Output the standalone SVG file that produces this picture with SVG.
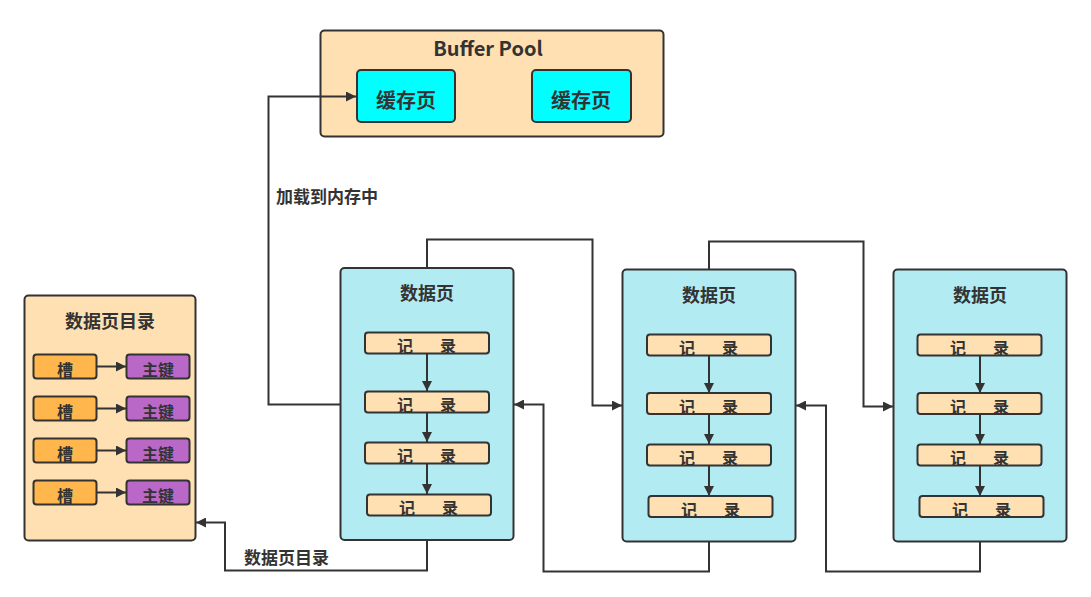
<svg xmlns="http://www.w3.org/2000/svg" width="1091" height="597" viewBox="0 0 1091 597">
<defs>
<marker id="ah" viewBox="0 0 10 10" refX="10" refY="5" markerWidth="10" markerHeight="10" markerUnits="userSpaceOnUse" orient="auto">
<path d="M0,0 L10,5 L0,10 Z" fill="#333"/>
</marker>
</defs>
<style>
text{font-family:"Noto Sans CJK SC","Liberation Sans",sans-serif;font-weight:bold;fill:#333;text-anchor:middle;dominant-baseline:central}
.box{stroke:#333;stroke-width:2}
.peach{fill:#FFE0B2}
.blue{fill:#B2EBF2}
.cyan{fill:#00FFFF}
.slot{fill:#FFB74D}
.key{fill:#BA68C8}
.title{font-size:18px}
.big{font-size:20px}
.small{font-size:16px}
.lbl{font-size:17px;text-anchor:start}
.c{fill:none;stroke:#333;stroke-width:2;marker-end:url(#ah)}
</style>
<rect width="1091" height="597" fill="#fff"/>

<g id="buffer-pool">
<rect class="box peach" x="320.5" y="30.5" width="343" height="106" rx="4"/>
<text class="big" x="488" y="47">Buffer Pool</text>
</g>
<g id="cache-page-1">
<rect class="box cyan" x="357" y="70" width="98" height="52" rx="4"/>
<text class="big" x="406" y="99">缓存页</text>
</g>
<g id="cache-page-2">
<rect class="box cyan" x="532" y="70" width="99" height="52" rx="4"/>
<text class="big" x="581" y="99">缓存页</text>
</g>

<g id="page-directory">
<rect class="box peach" x="24.5" y="295.5" width="171" height="245" rx="4"/>
<text class="title" x="110" y="320">数据页目录</text>
<rect class="box slot" x="33.5" y="354.5" width="63" height="24" rx="3"/>
<text class="small" x="65" y="369">槽</text>
<rect class="box key" x="126.5" y="354.5" width="63" height="24" rx="3"/>
<text class="small" x="158" y="369">主键</text>
<rect class="box slot" x="33.5" y="396.5" width="63" height="24" rx="3"/>
<text class="small" x="65" y="411">槽</text>
<rect class="box key" x="126.5" y="396.5" width="63" height="24" rx="3"/>
<text class="small" x="158" y="411">主键</text>
<rect class="box slot" x="33.5" y="438.5" width="63" height="24" rx="3"/>
<text class="small" x="65" y="453">槽</text>
<rect class="box key" x="126.5" y="438.5" width="63" height="24" rx="3"/>
<text class="small" x="158" y="453">主键</text>
<rect class="box slot" x="33.5" y="480.5" width="63" height="24" rx="3"/>
<text class="small" x="65" y="495">槽</text>
<rect class="box key" x="126.5" y="480.5" width="63" height="24" rx="3"/>
<text class="small" x="158" y="495">主键</text>
<path class="c" d="M97,366.5 H126"/>
<path class="c" d="M97,408.5 H126"/>
<path class="c" d="M97,450.5 H126"/>
<path class="c" d="M97,492.5 H126"/>
</g>

<g id="data-page-1">
<rect class="box blue" x="340.5" y="268" width="173" height="272" rx="4"/>
<text class="title" x="427" y="292">数据页</text>
<rect class="box peach" x="365" y="332.5" width="124" height="21" rx="3"/>
<text class="small" x="405" y="345">记</text><text class="small" x="448" y="345">录</text>
<rect class="box peach" x="365" y="391.5" width="124" height="21" rx="3"/>
<text class="small" x="405" y="404">记</text><text class="small" x="448" y="404">录</text>
<rect class="box peach" x="365" y="442.5" width="124" height="21" rx="3"/>
<text class="small" x="405" y="455">记</text><text class="small" x="448" y="455">录</text>
<rect class="box peach" x="367" y="494.5" width="124" height="21" rx="3"/>
<text class="small" x="407" y="507">记</text><text class="small" x="450" y="507">录</text>
<path class="c" d="M427,354 V391"/>
<path class="c" d="M427,413 V442"/>
<path class="c" d="M427,464 V494"/>
</g>

<g id="data-page-2">
<rect class="box blue" x="622.5" y="269.5" width="173" height="272" rx="4"/>
<text class="title" x="709" y="294">数据页</text>
<rect class="box peach" x="647" y="334.5" width="124" height="21" rx="3"/>
<text class="small" x="687" y="347">记</text><text class="small" x="730" y="347">录</text>
<rect class="box peach" x="647" y="393" width="124" height="21" rx="3"/>
<text class="small" x="687" y="406">记</text><text class="small" x="730" y="406">录</text>
<rect class="box peach" x="647" y="444.5" width="124" height="21" rx="3"/>
<text class="small" x="687" y="457">记</text><text class="small" x="730" y="457">录</text>
<rect class="box peach" x="648.5" y="496" width="124" height="21" rx="3"/>
<text class="small" x="689" y="509">记</text><text class="small" x="732" y="509">录</text>
<path class="c" d="M709,356 V393"/>
<path class="c" d="M709,414 V444"/>
<path class="c" d="M709,466 V496"/>
</g>

<g id="data-page-3">
<rect class="box blue" x="893.5" y="269.5" width="173" height="272" rx="4"/>
<text class="title" x="980" y="294">数据页</text>
<rect class="box peach" x="917.5" y="334.5" width="124" height="21" rx="3"/>
<text class="small" x="958" y="347">记</text><text class="small" x="1001" y="347">录</text>
<rect class="box peach" x="917.5" y="393" width="124" height="21" rx="3"/>
<text class="small" x="958" y="406">记</text><text class="small" x="1001" y="406">录</text>
<rect class="box peach" x="917.5" y="444.5" width="124" height="21" rx="3"/>
<text class="small" x="958" y="457">记</text><text class="small" x="1001" y="457">录</text>
<rect class="box peach" x="919.5" y="496" width="124" height="21" rx="3"/>
<text class="small" x="960" y="509">记</text><text class="small" x="1003" y="509">录</text>
<path class="c" d="M980,356 V393"/>
<path class="c" d="M980,414 V444"/>
<path class="c" d="M980,466 V496"/>
</g>

<g id="connectors">
<path class="c" d="M340,404.5 H268.5 V96.5 H356"/>
<path class="c" d="M427,267 V239.5 H592.5 V405.5 H622"/>
<path class="c" d="M709,269 V241.5 H863.5 V406.5 H893"/>
<path class="c" d="M709,542 V571.5 H543.5 V404.5 H514"/>
<path class="c" d="M980,542 V571.5 H826 V405.5 H796"/>
<path class="c" d="M427,540 V570.5 H225 V522.5 H196"/>
<text class="lbl" x="276" y="195">加载到内存中</text>
<text class="lbl" x="244" y="556">数据页目录</text>
</g>
</svg>
